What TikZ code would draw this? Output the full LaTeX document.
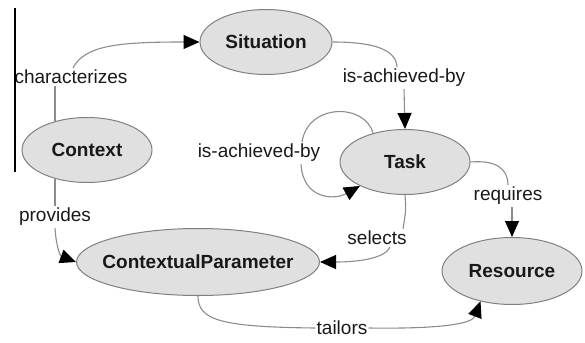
\documentclass[tikz,border=0pt]{standalone}
\usepackage{fontspec}
\setmainfont{Liberation Sans}
\usetikzlibrary{arrows.meta,calc,shapes.geometric}
\definecolor{nodefill}{RGB}{224,224,224}
\definecolor{nodeline}{RGB}{128,128,128}
\definecolor{edgeline}{RGB}{140,140,140}
\definecolor{txt}{RGB}{25,25,25}
\tikzset{
  concept/.style={ellipse, draw=nodeline, fill=nodefill, line width=1pt, inner sep=0pt,
    font=\fontsize{19}{22}\selectfont\bfseries, text=txt},
  elabel/.style={inner sep=2pt, font=\fontsize{19}{22}\selectfont, text=txt},
  edge/.style={draw=edgeline, line width=1.1pt},
  tip/.style={-{Triangle[length=16pt,width=14pt]}, arrows={[black]}},
}
\begin{document}
\begin{tikzpicture}[x=1pt,y=-1pt]
\useasboundingbox (0,0) rectangle (585,342);
% nodes
\node[concept, minimum width=132pt, minimum height=65pt] (sit) at (266,42) {Situation};
\node[concept, minimum width=130pt, minimum height=65pt] (ctx) at (87,150) {Context};
\node[concept, minimum width=130pt, minimum height=65pt] (task) at (405,162) {Task};
\node[concept, minimum width=243pt, minimum height=67pt] (cp) at (198,262) {\makebox[0pt]{ContextualParameter}};
\node[concept, minimum width=140pt, minimum height=67pt] (res) at (512,271) {Resource};
% labels
\node[elabel] (lchar) at (71,77) {characterizes};
\node[elabel] (lsit) at (404,78) {is-achieved-by};
\node[elabel] (lloop) at (259,153) {is-achieved-by};
\node[elabel] (lreq) at (508,196) {requires};
\node[elabel] (lsel) at (377,238) {selects};
\node[elabel] (lprov) at (55,217) {provides};
\node[elabel, inner xsep=1pt] (ltail) at (342,328) {tailors};
% left rule
\draw[black, line width=1.3pt] (15,8) -- (15,172);
% characterizes
\draw[edge] (ctx.138) .. controls +(0,-12) .. (ctx.138 |- lchar.south);
\draw[edge,tip] ($(lchar.north)+(2,0)$) .. controls (85,45) and (120,42) .. (sit.west);
% situation -> task
\draw[edge] (sit.east) .. controls (375,42) and (396,50) .. ($(lsit.north)+(-7,0)$);
\draw[edge,tip] (lsit.south) -- (task.north);
% loop
\draw[edge] (task.138) .. controls (365,103) and (308,103) .. ($(lloop.north)+(43,0)$);
\draw[edge,tip] ($(lloop.south)+(42,0)$) .. controls (303,200) and (335,200) .. (task.208);
% requires
\draw[edge] (task.east) .. controls (495,160) and (508,168) .. (lreq.north);
\draw[edge,tip] (lreq.south -| res.north) -- (res.north);
% selects
\draw[edge] (task.south) .. controls (406,210) .. ($(lsel.north)+(26,0)$);
\draw[edge,tip] ($(lsel.south)+(13,0)$) .. controls (385,258) and (360,262) .. (cp.east);
% provides
\draw[edge] (ctx.222) -- (ctx.222 |- lprov.north);
\draw[edge,tip] (ctx.222 |- lprov.south) .. controls (56,245) and (60,256) .. (cp.west);
% tailors
\draw[edge] (cp.south) .. controls (198,320) and (220,327) .. (ltail.west);
\draw[edge,tip] (ltail.east) .. controls (440,329) and (472,324) .. (res.224);
\end{tikzpicture}
\end{document}
